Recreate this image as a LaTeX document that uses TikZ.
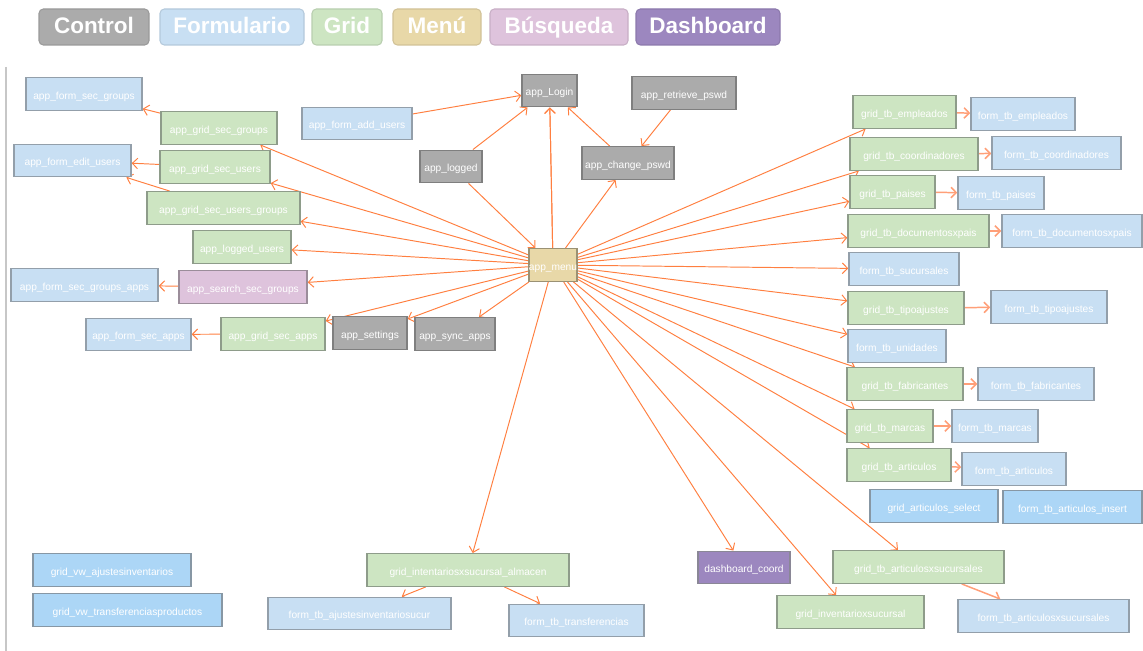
\documentclass[tikz,border=0pt]{standalone}
\usepackage{fontspec}
\setmainfont{Liberation Sans}
\usetikzlibrary{arrows.meta}

\pgfdeclarelayer{background}
\pgfsetlayers{background,main}

\definecolor{ctrlfill}{HTML}{ABABAB}
\definecolor{ctrldraw}{HTML}{7F7F7F}
\definecolor{formfill}{HTML}{C8DFF3}
\definecolor{formdraw}{HTML}{939FAA}
\definecolor{gridfill}{HTML}{CDE5C2}
\definecolor{griddraw}{HTML}{8E9C8A}
\definecolor{menufill}{HTML}{E8D8A8}
\definecolor{menudraw}{HTML}{9A9174}
\definecolor{busqfill}{HTML}{DEC3DC}
\definecolor{busqdraw}{HTML}{9B8D9A}
\definecolor{dashfill}{HTML}{9C87BF}
\definecolor{dashdraw}{HTML}{8A8796}
\definecolor{viewfill}{HTML}{ACD6F6}
\definecolor{viewdraw}{HTML}{8797A4}
\definecolor{linkcol}{HTML}{FF7F40}
\definecolor{sublinkcol}{HTML}{FF9F78}

\newcommand{\lbl}[1]{\makebox[0pt]{#1}}

\begin{document}
\begin{tikzpicture}[x=0.02cm, y=-0.02cm,
  box/.style={draw, line width=0.8pt, inner sep=0pt, minimum height=0.65cm,
    text height=1.3ex, text depth=0.15ex,
    text=white, font=\fontsize{5.8}{7}\selectfont},
  wd/.style={minimum width=#1*0.02cm},
  ctrl/.style={box, fill=ctrlfill, draw=ctrldraw},
  form/.style={box, fill=formfill, draw=formdraw},
  grid/.style={box, fill=gridfill, draw=griddraw},
  menu/.style={box, fill=menufill, draw=menudraw},
  busq/.style={box, fill=busqfill, draw=busqdraw},
  dashb/.style={box, fill=dashfill, draw=dashdraw},
  view/.style={box, fill=viewfill, draw=viewdraw},
  legend/.style={rounded corners=2.5pt, line width=0.6pt, inner sep=0pt,
    minimum height=0.72cm, text height=1.45ex, text depth=0pt,
    text=white, font=\fontsize{12.8}{14}\selectfont\bfseries},
  link/.style={draw=linkcol, line width=0.55pt, -{Straight Barb[length=3pt,width=6pt]}},
  sublink/.style={link, draw=sublinkcol, line width=0.85pt}]

  \useasboundingbox (0,0) rectangle (1143,651);

  %% Legend
  \node[legend, fill=ctrlfill, draw=ctrlfill!90!black, wd=110] (lctrl) at (94,27) {Control};
  \node[legend, fill=formfill, draw=formfill!90!black, wd=144] (lform) at (232,27) {Formulario};
  \node[legend, fill=gridfill, draw=gridfill!90!black, wd=70] (lgrid) at (347,27) {Grid};
  \node[legend, fill=menufill, draw=menufill!90!black, wd=88] (lmenu) at (437,27) {Menú};
  \node[legend, fill=busqfill, draw=busqfill!90!black, wd=138] (lbusq) at (559,27) {Búsqueda};
  \node[legend, fill=dashfill, draw=dashfill!90!black, wd=144] (ldash) at (708,27) {Dashboard};

  % frame line on the left
  \draw[black!22, line width=0.8pt] (6,67) -- (6,651);

  %% Control nodes
  \node[ctrl, wd=55] (alogin) at (549.5,90.5) {\lbl{app\_Login}};
  \node[ctrl, wd=104] (aretr) at (684,93) {\lbl{app\_retrieve\_pswd}};
  \node[ctrl, wd=62] (alogged) at (451,166.5) {\lbl{app\_logged}};
  \node[ctrl, wd=92] (achg) at (628,163) {\lbl{app\_change\_pswd}};
  \node[ctrl, wd=74] (aset) at (370,333) {\lbl{app\_settings}};
  \node[ctrl, wd=80] (async) at (455,334) {\lbl{app\_sync\_apps}};
  \node[menu, wd=48] (amenu) at (553,265) {\lbl{app\_menu}};

  %% Left side
  \node[form, wd=116] (afsg) at (84,94) {\lbl{app\_form\_sec\_groups}};
  \node[grid, wd=116] (agsg) at (219,128) {\lbl{app\_grid\_sec\_groups}};
  \node[form, wd=110] (afau) at (357,123.5) {\lbl{app\_form\_add\_users}};
  \node[form, wd=117] (afeu) at (72.5,160.5) {\lbl{app\_form\_edit\_users}};
  \node[grid, wd=110] (agsu) at (215,167) {\lbl{app\_grid\_sec\_users}};
  \node[grid, wd=153] (agsug) at (223.5,208) {\lbl{app\_grid\_sec\_users\_groups}};
  \node[grid, wd=98] (alu) at (242,247) {\lbl{app\_logged\_users}};
  \node[form, wd=147] (afsga) at (84.5,285) {\lbl{app\_form\_sec\_groups\_apps}};
  \node[busq, wd=128] (assg) at (243,287) {\lbl{app\_search\_sec\_groups}};
  \node[form, wd=105] (afsa) at (138.5,334.5) {\lbl{app\_form\_sec\_apps}};
  \node[grid, wd=104] (agsa) at (273,334) {\lbl{app\_grid\_sec\_apps}};

  %% Right side
  \node[grid, wd=103] (gemp) at (904.5,112) {\lbl{grid\_tb\_empleados}};
  \node[form, wd=104] (femp) at (1023,114) {\lbl{form\_tb\_empleados}};
  \node[grid, wd=128] (gcoo) at (914,154) {\lbl{grid\_tb\_coordinadores}};
  \node[form, wd=129] (fcoo) at (1056.5,153) {\lbl{form\_tb\_coordinadores}};
  \node[grid, wd=85] (gpai) at (892.5,192) {\lbl{grid\_tb\_paises}};
  \node[form, wd=86] (fpai) at (1001,193) {\lbl{form\_tb\_paises}};
  \node[grid, wd=141] (gdoc) at (918.5,231) {\lbl{grid\_tb\_documentosxpais}};
  \node[form, wd=140] (fdoc) at (1072,231) {\lbl{form\_tb\_documentosxpais}};
  \node[form, wd=110] (fsuc) at (904,269) {\lbl{form\_tb\_sucursales}};
  \node[grid, wd=116] (gtip) at (906,308) {\lbl{grid\_tb\_tipoajustes}};
  \node[form, wd=116] (ftip) at (1049,307) {\lbl{form\_tb\_tipoajustes}};
  \node[form, wd=98] (funi) at (897,346) {\lbl{form\_tb\_unidades}};
  \node[grid, wd=116] (gfab) at (905,384) {\lbl{grid\_tb\_fabricantes}};
  \node[form, wd=116] (ffab) at (1036,384) {\lbl{form\_tb\_fabricantes}};
  \node[grid, wd=86] (gmar) at (890,426) {\lbl{grid\_tb\_marcas}};
  \node[form, wd=86] (fmar) at (995,426) {\lbl{form\_tb\_marcas}};
  \node[grid, wd=104] (gart) at (899,465) {\lbl{grid\_tb\_articulos}};
  \node[form, wd=104] (fart) at (1014,469) {\lbl{form\_tb\_articulos}};
  \node[view, wd=128] (gasel) at (934,506) {\lbl{grid\_articulos\_select}};
  \node[view, wd=139] (fains) at (1072.5,507) {\lbl{form\_tb\_articulos\_insert}};
  \node[grid, wd=171] (gaxs) at (918.5,567) {\lbl{grid\_tb\_articulosxsucursales}};
  \node[grid, wd=147] (ginv) at (850.5,612) {\lbl{grid\_inventarioxsucursal}};
  \node[form, wd=171] (faxs) at (1043.5,616) {\lbl{form\_tb\_articulosxsucursales}};
  \node[dashb, wd=92] (dash) at (744,567.5) {\lbl{dashboard\_coord}};

  %% Bottom
  \node[view, wd=158] (gvaj) at (112,570) {\lbl{grid\_vw\_ajustesinventarios}};
  \node[view, wd=189] (gvtr) at (127.5,610) {\lbl{grid\_vw\_transferenciasproductos}};
  \node[grid, wd=202] (gialm) at (468,570) {\lbl{grid\_intentariosxsucursal\_almacen}};
  \node[form, wd=183] (fajs) at (359.5,613.5) {\lbl{form\_tb\_ajustesinventariosucur}};
  \node[form, wd=135] (ftra) at (576.5,620.5) {\lbl{form\_tb\_transferencias}};

  %% Connectors (behind the boxes)
  \begin{pgfonlayer}{background}
    % login block
    \draw[link] (afau) -- (alogin);
    \draw[link] (alogged) -- (alogin);
    \draw[link] (achg) -- (alogin);
    \draw[link] (aretr) -- (achg);
    \draw[link] (alogged) -- (amenu);
    \draw[link, {Straight Barb[length=3pt,width=6pt]}-] (alogin) -- (amenu);

    % from the menu
    \foreach \t in {alogin,achg,async,aset,agsa,agsg,agsu,agsug,alu,assg,
                    gemp,gcoo,gpai,gdoc,fsuc,gtip,funi,gfab,gmar,gart,
                    gaxs,ginv,dash,gialm}
      \draw[link] (amenu) -- (\t);

    % grid -> form, left
    \draw[link] (agsg) -- (afsg);
    \draw[link] (agsu) -- (afeu);
    \draw[link] (agsug) -- (afeu);
    \draw[link] (assg) -- (afsga);
    \draw[link] (agsa) -- (afsa);

    % grid -> form, right and bottom
    \foreach \g/\f in {gemp/femp,gcoo/fcoo,gpai/fpai,gdoc/fdoc,gtip/ftip,
                       gfab/ffab,gmar/fmar,gart/fart,gaxs/faxs}
      \draw[sublink] (\g) -- (\f);
    \draw[link] (gialm) -- (fajs);
    \draw[link] (gialm) -- (ftra);
  \end{pgfonlayer}

\end{tikzpicture}
\end{document}
